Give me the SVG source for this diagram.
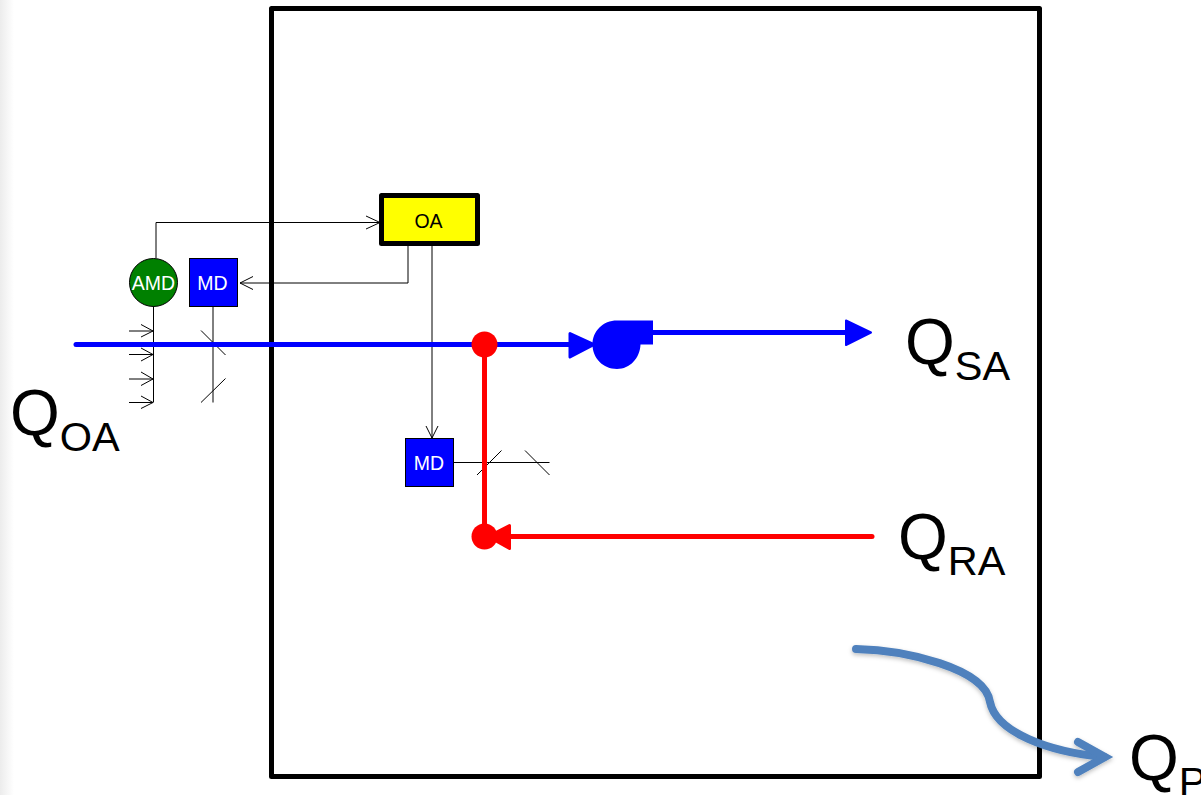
<svg xmlns="http://www.w3.org/2000/svg" width="1201" height="795" viewBox="0 0 1201 795">
<defs>
<linearGradient id="edge" x1="0" x2="1" y1="0" y2="0"><stop offset="0" stop-color="#ececec"/><stop offset="1" stop-color="#ffffff"/></linearGradient>
<filter id="soft" x="-10%" y="-10%" width="120%" height="130%"><feDropShadow dx="0" dy="2" stdDeviation="2" flood-color="#000" flood-opacity="0.25"/></filter>
</defs>
<style>
.thin{fill:none;stroke:#000;stroke-width:1}
.blue{fill:none;stroke:#0000ff;stroke-width:5;stroke-linecap:round}
.red{fill:none;stroke:#ff0000;stroke-width:5;stroke-linecap:round}
.s{font-family:"Liberation Sans",Arial,sans-serif;font-size:19.500px;fill:#fff;text-anchor:middle}
.big{font-family:"Liberation Sans",Arial,sans-serif;font-size:64px;fill:#000}
.sub{font-family:"Liberation Sans",Arial,sans-serif;font-size:41.500px;fill:#000}
</style>
<rect width="1201" height="795" fill="#fff"/>
<rect x="0" y="0" width="14" height="795" fill="url(#edge)"/>
<g id="room"><rect x="271.500" y="8.500" width="768" height="768" fill="none" stroke="#000" stroke-width="5" stroke-linejoin="round"/></g>
<g id="connectors">
<path class="thin" d="M156 258V222.500H380"/>
<path class="thin" d="M366 216L380 222.500L366 229"/>
<path class="thin" d="M408 244V283H240"/>
<path class="thin" d="M253 276.500L240 283L253 289.500"/>
<path class="thin" d="M432 244V438"/>
<path class="thin" d="M426 426L432 438L438 426"/>
<path class="thin" d="M153.500 306V402.500"/>
<path class="thin" d="M129 331H153M141 324.500L153 331L141 337M129 354.500H153M141 348L153 354.500L141 361M129 379H153M141 372L153 379L141 385.500M129 402.500H153M141 396L153 402.500L141 408.500"/>
<path class="thin" d="M213 306V402.500"/>
<path class="thin" d="M201 330.500L225.500 355M201 402.500L225.500 378.500"/>
<path class="thin" d="M453 462.500H549.500"/>
<path class="thin" d="M477 475L501.500 450.500M525 450.500L549.500 475"/>
<path class="blue" d="M76 344.500H570"/>
<path d="M570 333.500L594 344.500L570 357Z" fill="#0000ff" stroke="#0000ff" stroke-width="3" stroke-linejoin="round"/>
<path d="M653 332.500H846" fill="none" stroke="#0000ff" stroke-width="5"/>
<path d="M846 320.500L871 332.500L846 345Z" fill="#0000ff" stroke="#0000ff" stroke-width="2" stroke-linejoin="round"/>
<path d="M484.500 344V537" fill="none" stroke="#ff0000" stroke-width="5"/>
<path class="red" d="M872 536.500H510"/>
<path d="M509.500 525.500L488 536.500L509.500 548.500Z" fill="#ff0000" stroke="#ff0000" stroke-width="3" stroke-linejoin="round"/>
<circle cx="484.500" cy="344.500" r="13" fill="#ff0000"/>
<circle cx="484.500" cy="536.500" r="13" fill="#ff0000"/>
</g>
<g id="fan"><path d="M653 320.500V344.500H640.500C640 358 630 369 617 369C603 369 592.500 358 592.500 344.500C592.500 331 603 320.500 617 320.500Z" fill="#0000ff"/></g>
<g id="amd"><circle cx="153.500" cy="282.500" r="24" fill="#008000" stroke="#000" stroke-width="1"/><text class="s" x="153.500" y="289.500">AMD</text></g>
<g id="md-oa"><rect x="189.500" y="258.500" width="48" height="48" fill="#0000ff" stroke="#000" stroke-width="1"/><text class="s" x="212.500" y="289.500">MD</text></g>
<g id="md-ra"><rect x="405.500" y="438.500" width="48" height="48" fill="#0000ff" stroke="#000" stroke-width="1"/><text class="s" x="429" y="470">MD</text></g>
<g id="oa"><rect x="381.500" y="195.500" width="96" height="48" fill="#ffff00" stroke="#000" stroke-width="5" stroke-linejoin="round"/><text x="428.500" y="228" text-anchor="middle" font-family="'Liberation Sans',Arial,sans-serif" font-size="19.500" fill="#000">OA</text></g>
<g id="pressure-arrow" filter="url(#soft)">
<path d="M856 649C905 650 985 668 990 702C996 732 1048 752 1104 757" fill="none" stroke="#4f81bd" stroke-width="8" stroke-linecap="round"/>
<path d="M1078 742L1105 757L1078 772" fill="none" stroke="#4f81bd" stroke-width="8" stroke-linecap="round" stroke-linejoin="miter"/>
</g>
<g id="labels">
<text x="905" y="364"><tspan class="big">Q</tspan><tspan class="sub" dy="16">SA</tspan></text>
<text x="10" y="435"><tspan class="big">Q</tspan><tspan class="sub" dy="16">OA</tspan></text>
<text x="898" y="559"><tspan class="big">Q</tspan><tspan class="sub" dy="16">RA</tspan></text>
<text x="1129" y="780"><tspan class="big">Q</tspan><tspan class="sub" dy="16">P</tspan></text>
</g>
</svg>
